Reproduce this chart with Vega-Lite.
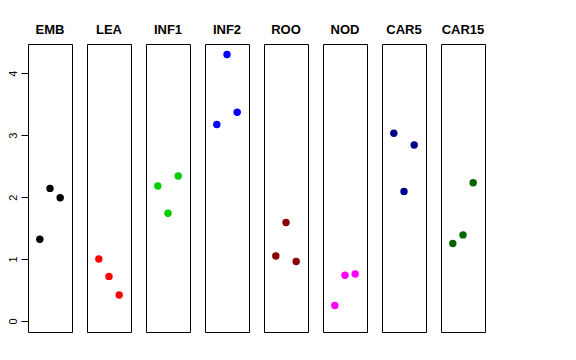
{
  "$schema": "https://vega.github.io/schema/vega-lite/v6.json",
  "padding": {"left": 7, "top": 24, "right": 5, "bottom": 5},
  "background": "white",
  "bounds": "flush",
  "data": {"values": [
    {"tissue": "EMB", "rep": 1, "value": 1.32},
    {"tissue": "EMB", "rep": 2, "value": 2.14},
    {"tissue": "EMB", "rep": 3, "value": 1.99},
    {"tissue": "LEA", "rep": 1, "value": 1.0},
    {"tissue": "LEA", "rep": 2, "value": 0.72},
    {"tissue": "LEA", "rep": 3, "value": 0.42},
    {"tissue": "INF1", "rep": 1, "value": 2.18},
    {"tissue": "INF1", "rep": 2, "value": 1.74},
    {"tissue": "INF1", "rep": 3, "value": 2.34},
    {"tissue": "INF2", "rep": 1, "value": 3.17},
    {"tissue": "INF2", "rep": 2, "value": 4.3},
    {"tissue": "INF2", "rep": 3, "value": 3.37},
    {"tissue": "ROO", "rep": 1, "value": 1.05},
    {"tissue": "ROO", "rep": 2, "value": 1.59},
    {"tissue": "ROO", "rep": 3, "value": 0.96},
    {"tissue": "NOD", "rep": 1, "value": 0.25},
    {"tissue": "NOD", "rep": 2, "value": 0.74},
    {"tissue": "NOD", "rep": 3, "value": 0.76},
    {"tissue": "CAR5", "rep": 1, "value": 3.03},
    {"tissue": "CAR5", "rep": 2, "value": 2.09},
    {"tissue": "CAR5", "rep": 3, "value": 2.84},
    {"tissue": "CAR15", "rep": 1, "value": 1.25},
    {"tissue": "CAR15", "rep": 2, "value": 1.39},
    {"tissue": "CAR15", "rep": 3, "value": 2.23}
  ]},
  "facet": {
    "column": {
      "field": "tissue",
      "type": "nominal",
      "sort": ["EMB", "LEA", "INF1", "INF2", "ROO", "NOD", "CAR5", "CAR15"],
      "header": {
        "title": null,
        "labelFont": "Liberation Sans",
        "labelFontSize": 13,
        "labelFontWeight": "bold",
        "labelColor": "black",
        "labelPadding": 7
      }
    }
  },
  "spacing": 15,
  "spec": {
    "width": 44,
    "height": 288,
    "mark": {"type": "circle", "size": 55, "opacity": 1},
    "encoding": {
      "x": {
        "field": "rep",
        "type": "quantitative",
        "scale": {"domain": [-0.16, 4.16], "nice": false, "zero": false},
        "axis": null
      },
      "y": {
        "field": "value",
        "type": "quantitative",
        "scale": {"domain": [-0.177, 4.47], "nice": false, "zero": false},
        "axis": {
          "title": null,
          "values": [0, 1, 2, 3, 4],
          "grid": false,
          "domain": false,
          "tickSize": 7,
          "tickColor": "black",
          "labelAngle": 270,
          "labelAlign": "center",
          "labelBaseline": "bottom",
          "labelPadding": 3,
          "labelFont": "Liberation Sans",
          "labelFontSize": 11,
          "labelColor": "black"
        }
      },
      "color": {
        "field": "tissue",
        "type": "nominal",
        "scale": {
          "domain": ["EMB", "LEA", "INF1", "INF2", "ROO", "NOD", "CAR5", "CAR15"],
          "range": ["#000000", "#FF0000", "#00CD00", "#0000FF", "#8B0000", "#FF00FF", "#00008B", "#006400"]
        },
        "legend": null
      }
    }
  },
  "config": {
    "view": {"stroke": "black", "strokeWidth": 1}
  }
}
